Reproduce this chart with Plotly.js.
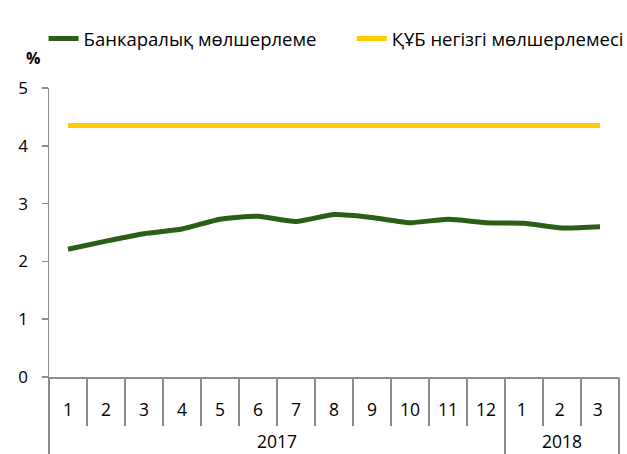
<!DOCTYPE html>
<html><head><meta charset="utf-8">
<script src="https://cdn.plot.ly/plotly-3.0.1.min.js"></script>
<style>html,body{margin:0;padding:0;background:#fff}</style>
</head><body><div id="chart" style="width:627px;height:454px"></div>
<script>
const years = ["2017","2017","2017","2017","2017","2017","2017","2017","2017","2017","2017","2017","2018","2018","2018"];
const months = ["1","2","3","4","5","6","7","8","9","10","11","12","1 ","2 ","3 "];
const interbank = [2.21,2.35,2.48,2.56,2.73,2.78,2.69,2.81,2.76,2.67,2.73,2.67,2.66,2.58,2.60];
const baseRate = [4.35,4.35,4.35,4.35,4.35,4.35,4.35,4.35,4.35,4.35,4.35,4.35,4.35,4.35,4.35];
const names = ["Банкаралық мөлшерлеме","ҚҰБ негізгі мөлшерлемесі"];

const yearLabels = years.map(function(y){ return "<br>" + y; });
const font = "Open Sans, Noto Sans, sans-serif";
const axisColor = "#8c8c8c";
const traces = [
  {x:[yearLabels,months], y:interbank, name:names[0], type:"scatter", mode:"lines", legend:"legend",
   line:{color:"#2B5F17", width:5, shape:"spline", smoothing:0.6}},
  {x:[yearLabels,months], y:baseRate, name:names[1], type:"scatter", mode:"lines", legend:"legend2",
   line:{color:"#FFCC00", width:5}}
];
const legendFont = {family:font, size:18.5, color:"#000"};
const layout = {
  width:627, height:454,
  margin:{l:49, r:8, t:88, b:77, autoexpand:false},
  paper_bgcolor:"#fff", plot_bgcolor:"#fff",
  font:{family:font, size:17, color:"#000"},
  showlegend:true,
  legend:{orientation:"h", x:-0.0095, xanchor:"left", y:1.17, yanchor:"middle",
    font:legendFont, itemwidth:30},
  legend2:{orientation:"h", x:0.531, xanchor:"left", y:1.17, yanchor:"middle",
    font:legendFont, itemwidth:30},
  xaxis:{type:"multicategory", range:[-0.5,14.5], showline:true, linecolor:axisColor, linewidth:1.5,
    ticks:"outside", ticklen:47, tickcolor:axisColor, tickwidth:1.5, ticklabelstandoff:16,
    showdividers:true, dividercolor:axisColor, dividerwidth:1.5,
    tickfont:{family:font, size:17.5, color:"#000"}, showgrid:false, zeroline:false},
  yaxis:{range:[0,5], dtick:1, showline:true, linecolor:axisColor, linewidth:1.5,
    ticks:"outside", ticklen:6, tickcolor:axisColor, tickwidth:1.5, showgrid:false, zeroline:false,
    ticklabelstandoff:10, tickfont:{family:font, size:17, color:"#000"}},
  annotations:[{text:"<b>%</b>", xref:"paper", yref:"paper", x:-0.044, y:1.105,
    xanchor:"left", yanchor:"middle", showarrow:false, font:{family:font, size:16, color:"#000"}}],
  shapes:[
    {type:"line", xref:"paper", yref:"paper", x0:0, x1:0, y0:0, y1:-0.27, line:{color:axisColor, width:1.5}},
    {type:"line", xref:"paper", yref:"paper", x0:1, x1:1, y0:0, y1:-0.27, line:{color:axisColor, width:1.5}}
  ]
};
Plotly.newPlot("chart", traces, layout, {displayModeBar:false, staticPlot:true});
</script></body></html>
